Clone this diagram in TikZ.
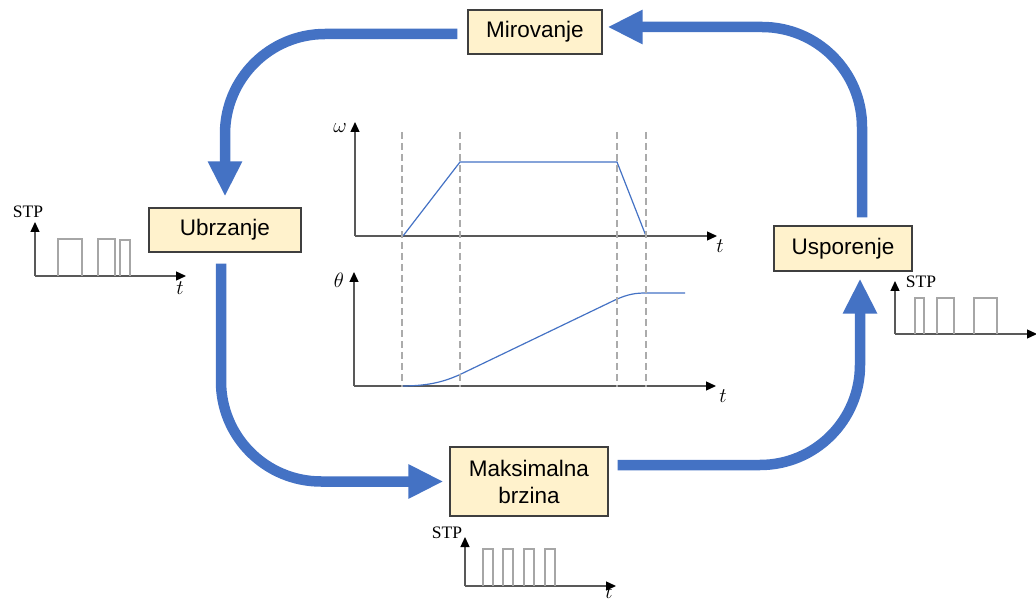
\documentclass[tikz,border=0pt]{standalone}
\usepackage{fontspec}
\setmainfont{Liberation Sans}
\newfontfamily\stpfont{Liberation Serif}
\usetikzlibrary{arrows.meta}
\definecolor{flowblue}{HTML}{4472C4}
\definecolor{boxfill}{HTML}{FFF2CC}
\definecolor{boxline}{HTML}{3F3F3F}
\definecolor{axisgray}{HTML}{595959}
\definecolor{dashgray}{HTML}{ABABAB}
\definecolor{pulsegray}{HTML}{A6A6A6}
\tikzset{
  statebox/.style={draw=boxline, line width=1.2pt, fill=boxfill, inner sep=0pt,
    font=\fontsize{22.5}{27}\selectfont, align=center},
  bigarrow/.style={draw=flowblue, line width=10.5pt,
    -{Triangle[length=35pt,width=32pt]}, rounded corners=100pt},
  axisline/.style={draw=axisgray, line width=1.3pt, -{Triangle[length=10pt,width=9pt,color=black]}},
  guide/.style={draw=dashgray, line width=1.1pt, dash pattern=on 7pt off 4pt},
  curve/.style={draw=flowblue, line width=1.2pt},
  pulse/.style={draw=pulsegray, line width=1.3pt},
  stplabel/.style={font=\stpfont\fontsize{17.5}{19}\selectfont, inner sep=0pt},
  varlabel/.style={font=\fontsize{21}{23}\selectfont, inner sep=0pt}
}
\begin{document}
\begin{tikzpicture}[x=1pt,y=-1pt]
\useasboundingbox (0,0) rectangle (1036,601);

% state boxes
\node[statebox, minimum width=134pt, minimum height=44pt] (mir) at (535,32) {Mirovanje};
\node[statebox, minimum width=152pt, minimum height=44pt] (ubr) at (225,230) {Ubrzanje};
\node[statebox, minimum width=138pt, minimum height=45pt] (usp) at (843,248.5) {Usporenje};
\node[statebox, minimum width=158pt, minimum height=69pt] (maks) at (529,481.5) {Maksimalna\\brzina};

% big flow arrows
\draw[bigarrow, shorten <=10pt, shorten >=11pt] ([yshift=-2pt]mir.west) -| (ubr.north);
\draw[bigarrow, shorten <=11pt, shorten >=6pt] ([xshift=-4pt]ubr.south) |- (maks.west);
\draw[bigarrow, shorten <=9pt, shorten >=7pt] ([yshift=16.5pt]maks.east) -| ([xshift=17pt]usp.south);
\draw[bigarrow, shorten <=8pt, shorten >=5pt] ([xshift=19pt]usp.north) |- ([yshift=5pt]mir.east);

% omega chart
\coordinate (wo) at (355,236);
\draw[axisline] (wo) -- (355,122);
\draw[axisline] (wo) -- (717,236);
\node[varlabel] (wl) at (340,128) {$\omega$};
\node[varlabel] (wt) at (720,246) {$t$};
\draw[curve] (403,236) -- (460,162) -- (617,162) -- (646,236);

% theta chart
\coordinate (to) at (354,386);
\draw[axisline] (to) -- (354,272);
\draw[axisline] (to) -- (716,386);
\node[varlabel] (tl) at (339,280) {$\theta$};
\node[varlabel] (tt) at (723,396) {$t$};
\draw[curve] (401,386) .. controls (428,386) and (443,382) .. (459,375)
  -- (615,300) .. controls (628,294) and (636,293) .. (646,293) -- (685,293);

% guide lines
\foreach \gx in {402,460,617,646}
  \draw[guide] (\gx,132) -- (\gx,387);

% STP left
\draw[axisline] (35,276) -- (35,222);
\draw[axisline] (35,276) -- (186,276);
\node[stplabel] (stpl) at (28,212) {STP};
\node[varlabel] (tl2) at (180,288) {$t$};
\draw[pulse] (58,276) -- (58,239) -- (82,239) -- (82,276);
\draw[pulse] (98,276) -- (98,239) -- (115,239) -- (115,276);
\draw[pulse] (120,276) -- (120,240) -- (130,240) -- (130,276);

% STP right
\draw[axisline] (895,334) -- (895,281);
\draw[axisline] (895,334) -- (1037,334);
\node[stplabel] (stpr) at (921,282) {STP};
\draw[pulse] (915,334) -- (915,298) -- (924,298) -- (924,334);
\draw[pulse] (937,334) -- (937,298) -- (954,298) -- (954,334);
\draw[pulse] (974,334) -- (974,298) -- (997,298) -- (997,334);

% STP bottom
\draw[axisline] (465,586) -- (465,537);
\draw[axisline] (465,586) -- (616,586);
\node[stplabel] (stpb) at (447,533) {STP};
\node[varlabel] (tb) at (609,592) {$t$};
\draw[pulse] (483,586) -- (483,549) -- (493,549) -- (493,586);
\draw[pulse] (503,586) -- (503,549) -- (513,549) -- (513,586);
\draw[pulse] (524,586) -- (524,549) -- (534,549) -- (534,586);
\draw[pulse] (545,586) -- (545,549) -- (555,549) -- (555,586);
\end{tikzpicture}
\end{document}
